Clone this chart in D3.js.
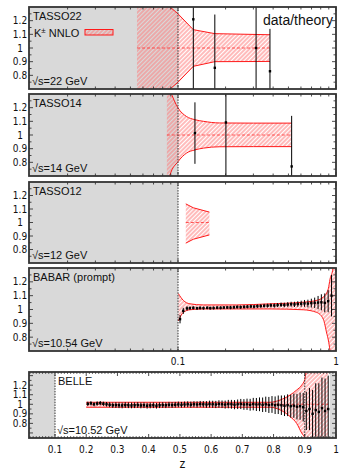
<!DOCTYPE html>
<html><head><meta charset="utf-8">
<script src="https://cdn.jsdelivr.net/npm/d3@7"></script>
<style>body{margin:0;background:#fff}svg{display:block}text{font-family:"Liberation Sans",Arial,Helvetica,sans-serif;fill:#111}
text.tl{font-family:"Liberation Sans Narrow","DejaVu Sans Condensed","Liberation Sans",Arial,sans-serif}</style>
</head><body><svg id="c" width="340" height="470"></svg>
<script>
// ---------- DATA ----------
const yTickVals=[0.8,0.9,1,1.1,1.2];
const yTickLabels=["0.8","0.9","1","1.1","1.2"];
const logTickVals=[0.1,1];
const logTickLabels=["0.1","1"];
const belleTickVals=[0.1,0.2,0.3,0.4,0.5,0.6,0.7,0.8,0.9,1];
const belleTickLabels=["0.1","0.2","0.3","0.4","0.5","0.6","0.7","0.8","0.9","1"];

// TASSO 22 GeV
const t22BandZ=[0.055,0.085,0.1,0.125,0.171,0.312,0.382];
const t22BandHi=[1.6,1.32,1.25,1.134,1.105,1.099,1.097];
const t22BandLo=[0.4,0.68,0.75,0.866,0.9,0.901,0.902];
const t22Z=[0.125,0.171,0.312,0.382];
const t22Val=[1.21,0.855,1.0,0.83];
const t22Err=[0.6,0.39,0.5,0.31];

// TASSO 14 GeV
const t14BandZ=[0.085,0.089,0.1,0.113,0.128,0.145,0.184,0.3,0.524];
const t14BandHi=[1.4,1.33,1.198,1.136,1.112,1.1,1.088,1.087,1.087];
const t14BandLo=[0.6,0.707,0.805,0.867,0.891,0.904,0.914,0.915,0.915];
const t14Z=[0.128,0.201,0.524];
const t14Val=[1.014,1.092,0.77];
const t14Err=[0.225,0.5,0.37];

// TASSO 12 GeV
const t12BandZ=[0.112,0.125,0.158];
const t12BandHi=[1.138,1.109,1.077];
const t12BandLo=[0.847,0.876,0.908];

// BABAR 10.54 GeV
const babBandZ=[0.1005,0.108,0.119,0.1445,0.235,0.382,0.621,0.755,0.831,0.873,0.894,0.917,0.957,1.0];
const babBandHi=[1.115,1.066,1.041,1.033,1.033,1.041,1.053,1.066,1.09,1.12,1.15,1.22,1.3,1.6];
const babBandLo=[0.917,0.979,0.998,1.004,1.004,1.004,0.998,0.979,0.93,0.83,0.78,0.7,0.5,0.4];
const babZ=[0.103,0.108,0.114,0.119,0.125,0.132,0.138,0.145,0.153,0.160,0.168,0.177,0.186,0.195,0.205,0.215,0.226,0.237,0.249,0.262,0.275,0.289,0.303,0.318,0.334,0.351,0.369,0.387,0.407,0.427,0.449,0.471,0.495,0.520,0.546,0.573,0.602,0.632,0.664,0.698,0.733,0.770,0.808,0.849,0.892,0.937];
const babVal=[0.93,0.99,1.008,1.01,1.012,1.009,1.011,1.01,1.012,1.01,1.011,1.013,1.012,1.014,1.015,1.014,1.016,1.018,1.017,1.019,1.02,1.022,1.021,1.024,1.025,1.027,1.028,1.03,1.029,1.032,1.034,1.033,1.036,1.038,1.037,1.04,1.042,1.044,1.043,1.046,1.048,1.05,1.052,1.048,1.06,1.1];
const babErr=[0.03,0.022,0.015,0.012,0.012,0.011,0.011,0.011,0.011,0.011,0.011,0.011,0.011,0.011,0.011,0.012,0.012,0.012,0.012,0.012,0.012,0.013,0.013,0.013,0.013,0.014,0.014,0.014,0.015,0.015,0.016,0.016,0.017,0.018,0.019,0.02,0.022,0.025,0.028,0.032,0.038,0.048,0.058,0.068,0.08,0.15];

// BELLE 10.52 GeV
const belBandZ=[0.2,0.5,0.789,0.821,0.853,0.874,0.89,0.9,0.906,0.975];
const belBandHi=[1.021,1.021,1.021,1.045,1.097,1.149,1.2,1.26,1.36,1.5];
const belBandLo=[0.969,0.969,0.969,0.941,0.871,0.8,0.7,0.65,0.6,0.5];
const belZ=[0.205,0.215,0.225,0.235,0.245,0.255,0.265,0.275,0.285,0.295,0.305,0.315,0.325,0.335,0.345,0.355,0.365,0.375,0.385,0.395,0.405,0.415,0.425,0.435,0.445,0.455,0.465,0.475,0.485,0.495,0.505,0.515,0.525,0.535,0.545,0.555,0.565,0.575,0.585,0.595,0.605,0.615,0.625,0.635,0.645,0.655,0.665,0.675,0.685,0.695,0.705,0.715,0.725,0.735,0.745,0.755,0.765,0.775,0.785,0.795,0.805,0.815,0.825,0.835,0.845,0.855,0.865,0.875,0.885,0.895,0.905,0.915,0.925,0.935,0.945,0.955,0.965,0.975];
const belVal=[1.005,1.01,1.0,1.008,1.012,1.005,1.0,0.995,0.99,0.992,0.99,0.988,0.992,0.99,0.988,0.99,0.992,0.988,0.99,0.985,0.988,0.99,0.985,0.99,0.992,0.99,0.995,0.992,0.995,0.998,0.995,0.998,1.0,0.996,1.0,0.998,1.002,1.0,0.998,1.002,1.0,0.998,1.003,1.0,0.997,1.002,1.0,0.996,1.0,1.003,0.998,1.0,0.995,1.002,0.998,1.0,0.995,1.0,0.993,0.998,0.99,0.995,0.99,0.985,0.99,0.98,0.985,0.975,0.98,0.97,0.93,0.95,0.9,0.94,0.92,0.96,0.93,0.95];
const belErr=[0.022,0.022,0.022,0.022,0.022,0.022,0.024,0.026,0.028,0.03,0.03,0.03,0.03,0.03,0.03,0.03,0.03,0.03,0.03,0.03,0.03,0.03,0.03,0.03,0.03,0.03,0.03,0.03,0.03,0.03,0.03,0.031,0.031,0.032,0.032,0.033,0.033,0.034,0.035,0.036,0.037,0.038,0.039,0.04,0.042,0.044,0.046,0.048,0.05,0.053,0.056,0.059,0.062,0.065,0.068,0.072,0.076,0.08,0.084,0.088,0.092,0.097,0.102,0.108,0.114,0.12,0.127,0.134,0.142,0.15,0.2,0.22,0.25,0.28,0.3,0.32,0.34,0.35];

// ---------- DRAW ----------
const svg=d3.select('#c');
const defs=svg.append('defs');
const L=29,R=336;
const pat=defs.append('pattern').attr('id','hatch').attr('patternUnits','userSpaceOnUse')
  .attr('width',3).attr('height',3).attr('patternTransform','rotate(45)');
pat.append('line').attr('x1',1).attr('y1',-1).attr('x2',1).attr('y2',4).attr('stroke','#ff7878').attr('stroke-width',1);

const logX=d3.scaleLog().domain([0.0114,1]).range([L,R]);
const linX=d3.scaleLinear().domain([0.0167,1]).range([L,R]);
const logMinor=[0.02,0.03,0.04,0.05,0.06,0.07,0.08,0.09,0.2,0.3,0.4,0.5,0.6,0.7,0.8,0.9];
const linMinor=d3.range(2,100).map(i=>i/100).filter(v=>Math.round(v*100)%10!==0);

const panels=[
 {id:'a',top:7,bot:89,x:logX,yd:[0.7,1.3],grey:[[0.001,0.1]],vl:[0.1],name:'TASSO22',en:'√s=22 GeV',lx:L+4,
  band:[t22BandZ,t22BandLo,t22BandHi],curve:d3.curveLinear,center:true,data:[t22Z,t22Val,t22Err]},
 {id:'b',top:94,bot:176,x:logX,yd:[0.7,1.3],grey:[[0.001,0.1]],vl:[0.1],name:'TASSO14',en:'√s=14 GeV',lx:L+4,
  band:[t14BandZ,t14BandLo,t14BandHi],curve:d3.curveMonotoneX,center:true,data:[t14Z,t14Val,t14Err]},
 {id:'c',top:182,bot:263,x:logX,yd:[0.7,1.3],grey:[[0.001,0.1]],vl:[0.1],name:'TASSO12',en:'√s=12 GeV',lx:L+4,
  band:[t12BandZ,t12BandLo,t12BandHi],curve:d3.curveLinear,center:true,data:null},
 {id:'d',top:268,bot:351,x:logX,yd:[0.7,1.3],grey:[[0.001,0.1]],vl:[0.1],name:'BABAR (prompt)',en:'√s=10.54 GeV',lx:L+4,
  band:[babBandZ,babBandLo,babBandHi],curve:d3.curveMonotoneX,center:false,data:[babZ,babVal,babErr]},
 {id:'e',top:372,bot:438,x:linX,yd:[0.647,1.338],grey:[[0,0.1],[0.98,1.0]],vl:[0.1,0.9],name:'BELLE',en:'√s=10.52 GeV',lx:58,
  band:[belBandZ,belBandLo,belBandHi],curve:d3.curveMonotoneX,center:true,data:[belZ,belVal,belErr],lin:true}
];

panels.forEach(p=>{
  const x=p.x;
  const y=d3.scaleLinear().domain(p.yd).range([p.bot,p.top]);
  const cid='clip'+p.id;
  defs.append('clipPath').attr('id',cid).append('rect').attr('x',L).attr('y',p.top).attr('width',R-L).attr('height',p.bot-p.top);
  const g=svg.append('g');
  const c=g.append('g').attr('clip-path',`url(#${cid})`);
  c.append('rect').attr('x',L).attr('y',p.top).attr('width',R-L).attr('height',p.bot-p.top).attr('fill','#fff');
  p.grey.forEach(([a,b])=>{
    const xa=Math.max(L,x(Math.max(a,x.domain()[0]))), xb=x(b);
    c.append('rect').attr('x',xa).attr('y',p.top).attr('width',xb-xa).attr('height',p.bot-p.top).attr('fill','#d9d9d9');
  });
  const bd=p.band[0].map((z,i)=>({z,lo:p.band[1][i],hi:p.band[2][i]}));
  c.append('path').datum(bd).attr('fill','url(#hatch)')
    .attr('d',d3.area().curve(p.curve).x(d=>x(d.z)).y0(d=>y(d.lo)).y1(d=>y(d.hi)));
  ['lo','hi'].forEach(k=>{
    c.append('path').datum(bd).attr('fill','none').attr('stroke','#ff1a1a').attr('stroke-width',1)
      .attr('d',d3.line().curve(p.curve).x(d=>x(d.z)).y(d=>y(d[k])));
  });
  if(p.center){
    const z0=p.band[0][0], z1=p.band[0][p.band[0].length-1];
    c.append('line').attr('x1',x(z0)).attr('x2',x(z1)).attr('y1',y(1)).attr('y2',y(1))
      .attr('stroke','#ff3030').attr('stroke-width',0.8).attr('stroke-dasharray','3,2');
  }
  if(p.data){
    const dd=p.data[0].map((z,i)=>({z,v:p.data[1][i],e:p.data[2][i]}));
    c.selectAll('line.eb').data(dd).enter().append('line')
      .attr('x1',d=>x(d.z)).attr('x2',d=>x(d.z)).attr('y1',d=>y(d.v-d.e)).attr('y2',d=>y(d.v+d.e))
      .attr('stroke','#000').attr('stroke-width',1);
    c.selectAll('rect.mk').data(dd).enter().append('rect')
      .attr('x',d=>x(d.z)-1.2).attr('y',d=>y(d.v)-1.2).attr('width',2.4).attr('height',2.4).attr('fill','#000');
  }
  p.vl.forEach(v=>{
    c.append('line').attr('x1',x(v)).attr('x2',x(v)).attr('y1',p.top).attr('y2',p.bot)
      .attr('stroke','#333').attr('stroke-width',1).attr('stroke-dasharray','1.5,1.2');
  });
  const tk=g.append('g').attr('stroke','#222').attr('stroke-width',0.8);
  const yt=d3.range(0,30).map(i=>0.6+i*0.05).filter(v=>v>p.yd[0]+0.01&&v<p.yd[1]-0.01);
  yt.forEach(v=>{
    const maj=Math.abs(Math.round(v*10)-v*10)<1e-6, len=maj?4:2.5;
    tk.append('line').attr('x1',L).attr('x2',L+len).attr('y1',y(v)).attr('y2',y(v));
    tk.append('line').attr('x1',R-len).attr('x2',R).attr('y1',y(v)).attr('y2',y(v));
  });
  const xmaj=p.lin?belleTickVals:logTickVals, xmin=p.lin?linMinor:logMinor;
  xmaj.forEach(v=>{
    tk.append('line').attr('x1',x(v)).attr('x2',x(v)).attr('y1',p.bot).attr('y2',p.bot-4);
    tk.append('line').attr('x1',x(v)).attr('x2',x(v)).attr('y1',p.top).attr('y2',p.top+4);
  });
  xmin.forEach(v=>{
    if(x(v)<=L+1) return;
    const len=p.lin?1.8:2.5;
    tk.append('line').attr('x1',x(v)).attr('x2',x(v)).attr('y1',p.bot).attr('y2',p.bot-len);
    tk.append('line').attr('x1',x(v)).attr('x2',x(v)).attr('y1',p.top).attr('y2',p.top+len);
  });
  g.append('rect').attr('x',L).attr('y',p.top).attr('width',R-L).attr('height',p.bot-p.top)
    .attr('fill','none').attr('stroke','#333').attr('stroke-width',1.8);
  yTickVals.forEach((v,i)=>{
    g.append('text').attr('class','tl').attr('x',20).attr('y',y(v)).attr('dy','0.35em').attr('text-anchor','middle')
      .attr('font-size',10).text(yTickLabels[i]);
  });
  g.append('text').attr('x',p.lx).attr('y',p.top+12.5).attr('font-size',11).text(p.name);
  g.append('text').attr('x',p.lx-1).attr('y',p.bot-4).attr('font-size',11).text(p.en);
});

logTickVals.forEach((v,i)=>{
  svg.append('text').attr('class','tl').attr('x',logX(v)).attr('y',365).attr('text-anchor','middle').attr('font-size',10).text(logTickLabels[i]);
});
belleTickVals.forEach((v,i)=>{
  svg.append('text').attr('class','tl').attr('x',linX(v)).attr('y',453).attr('text-anchor','middle').attr('font-size',10).text(belleTickLabels[i]);
});
svg.append('text').attr('x',(L+R)/2).attr('y',468).attr('text-anchor','middle').attr('font-size',12).text('z');

const lg=svg.append('g');
const kt=lg.append('text').attr('x',34).attr('y',36.5).attr('font-size',11);
kt.append('tspan').text('K');
kt.append('tspan').attr('font-size',8).attr('dy',-4).text('±');
kt.append('tspan').attr('dy',4).text(' NNLO');
lg.append('rect').attr('x',85).attr('y',29.5).attr('width',28).attr('height',5.5)
  .attr('fill','url(#hatch)').attr('stroke','#ff1a1a').attr('stroke-width',1);
svg.append('text').attr('x',333).attr('y',24.5).attr('text-anchor','end').attr('font-size',14).text('data/theory');
</script></body></html>
